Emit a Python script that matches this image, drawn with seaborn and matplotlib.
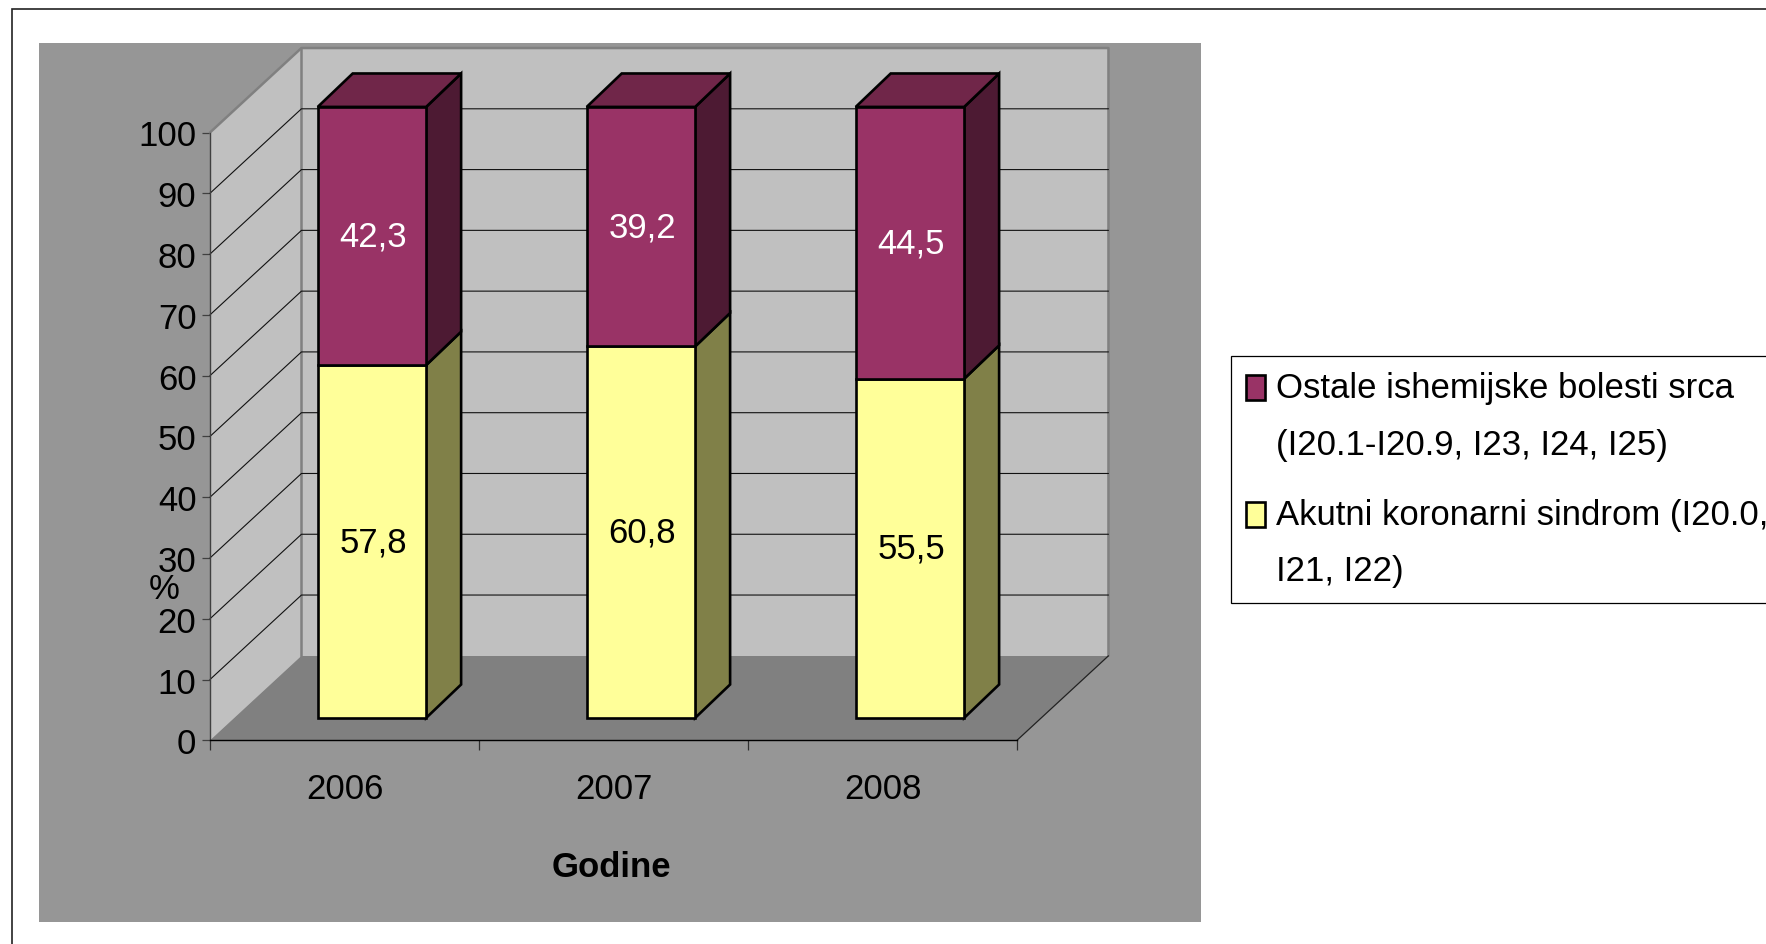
import matplotlib
matplotlib.use("Agg")
import matplotlib.pyplot as plt
import numpy as np
import pandas as pd
import seaborn as sns
from matplotlib.patches import Rectangle, Patch, Polygon
from matplotlib.legend_handler import HandlerPatch

sns.set_theme(style="white")
plt.rcParams['font.family'] = ['Liberation Sans', 'DejaVu Sans']
plt.rcParams['text.color'] = 'black'

# ---- data ----
years = ["2006", "2007", "2008"]
akutni = [57.8, 60.8, 55.5]
ostale = [42.3, 39.2, 44.5]
y_ticks = [0, 10, 20, 30, 40, 50, 60, 70, 80, 90, 100]
legend_labels = ["Ostale ishemijske bolesti srca\n(I20.1-I20.9, I23, I24, I25)",
                 "Akutni koronarni sindrom (I20.0,\nI21, I22)"]
x_title = "Godine"
y_title = "%"

W, H = 1766, 945
FS = 25
LFS = 25
fig = plt.figure(figsize=(W / 100, H / 100), dpi=100, facecolor="white")

def fig_box(l, t, r, b):
    return (l / W, 1 - b / H), (r - l) / W, (b - t) / H

# outer frame + chart area
xy, w, h = fig_box(12, 10, W + 20, H + 20)
fig.add_artist(Rectangle(xy, w, h, transform=fig.transFigure, fc="white", ec="#222222", lw=1.2, zorder=-2))
xy, w, h = fig_box(39, 44, 1201, 923)
fig.add_artist(Rectangle(xy, w, h, transform=fig.transFigure, fc="#969696", ec="none", zorder=-1))

xy, w, h = fig_box(210, 133.5, 1017, 741.3)
ax = fig.add_axes([xy[0], xy[1], w, h], facecolor="none")

ax.set_xlim(-0.5, 2.5)
ax.set_ylim(0, 100)

# projection constants (data units)
WALL_DX, WALL_DY = 0.34, 13.9
BAR_SHIFT_X, BAR_SHIFT_Y = 0.102, 3.68
BAR_DX, BAR_DY = 0.13, 5.5
BAR_SCALE = 1.0053
C_WALL, C_FLOOR = "#C0C0C0", "#808080"

# walls & floor
ax.add_patch(Polygon([(-0.5, 0), (-0.5 + WALL_DX, WALL_DY), (2.5 + WALL_DX, WALL_DY), (2.5, 0)],
                     fc=C_FLOOR, ec="none", clip_on=False, zorder=1))
ax.add_patch(Polygon([(-0.5 + WALL_DX, WALL_DY), (-0.5 + WALL_DX, 100 + WALL_DY),
                      (2.5 + WALL_DX, 100 + WALL_DY), (2.5 + WALL_DX, WALL_DY)],
                     fc=C_WALL, ec="none", clip_on=False, zorder=1))
ax.add_patch(Polygon([(-0.5, 0), (-0.5, 100), (-0.5 + WALL_DX, 100 + WALL_DY), (-0.5 + WALL_DX, WALL_DY)],
                     fc=C_WALL, ec="none", clip_on=False, zorder=1))
# wall outlines
ax.plot([-0.5, -0.5 + WALL_DX, 2.5 + WALL_DX, 2.5 + WALL_DX], [100, 100 + WALL_DY, 100 + WALL_DY, WALL_DY],
        color=C_FLOOR, lw=1.8, clip_on=False, zorder=1.5)
ax.plot([-0.5 + WALL_DX, -0.5 + WALL_DX], [WALL_DY, 100 + WALL_DY], color=C_FLOOR, lw=1.8, clip_on=False, zorder=1.5)
# gridlines
for v in y_ticks[1:-1]:
    ax.plot([-0.5, -0.5 + WALL_DX, 2.5 + WALL_DX], [v, v + WALL_DY, v + WALL_DY],
            color="#111111", lw=0.8, clip_on=False, zorder=2)
ax.plot([2.5, 2.5 + WALL_DX], [0, WALL_DY], color="#222222", lw=0.9, clip_on=False, zorder=2)

# bars
frame = pd.DataFrame({"year": years, "akutni": akutni, "ostale": ostale})
n0 = len(ax.patches)
sns.barplot(data=frame, x="year", y="akutni", color="#FFFF99", saturation=1, width=0.403,
            ax=ax, edgecolor="black", linewidth=1.9, zorder=5, clip_on=False)
sns.barplot(data=frame, x="year", y="ostale", color="#993366", saturation=1, width=0.403,
            ax=ax, edgecolor="black", linewidth=1.9, zorder=5, clip_on=False, bottom=frame["akutni"].values)

bars = ax.patches[n0:]
side_cols = ["#808048"] * 3 + ["#4D1A33"] * 3
top_col = "#702649"
labels = [f"{v}".replace(".", ",") for v in akutni + ostale]
txtcols = ["black"] * 3 + ["white"] * 3
for i, p in enumerate(bars):
    p.set_joinstyle("miter")
    x0, wd = p.get_x(), p.get_width()
    y0, ht = p.get_y(), p.get_height()
    total = akutni[i % 3] + ostale[i % 3]
    y0n = y0 * BAR_SCALE * 100 / total + BAR_SHIFT_Y
    htn = ht * BAR_SCALE * 100 / total
    p.set_x(x0 + BAR_SHIFT_X)
    p.set_y(y0n)
    p.set_height(htn)
    X0, X1, Y0, Y1 = x0 + BAR_SHIFT_X, x0 + BAR_SHIFT_X + wd, y0n, y0n + htn
    ax.add_patch(Polygon([(X1, Y0), (X1 + BAR_DX, Y0 + BAR_DY), (X1 + BAR_DX, Y1 + BAR_DY), (X1, Y1)],
                         fc=side_cols[i], ec="black", lw=1.9, joinstyle="miter", clip_on=False,
                         zorder=4.5 - (0 if i >= 3 else 0.2)))
    if i >= 3:
        ax.add_patch(Polygon([(X0, Y1), (X0 + BAR_DX, Y1 + BAR_DY), (X1 + BAR_DX, Y1 + BAR_DY), (X1, Y1)],
                             fc=top_col, ec="black", lw=1.9, joinstyle="miter", clip_on=False, zorder=4.5))
    ax.text((X0 + X1) / 2 + 0.004, (Y0 + Y1) / 2, labels[i], color=txtcols[i], fontsize=FS,
            ha="center", va="center", zorder=6)

ax.set_xlim(-0.5, 2.5)
ax.set_ylim(0, 100)

# axes
for s in ("top", "right"):
    ax.spines[s].set_visible(False)
ax.spines["left"].set_color("#404040")
ax.spines["left"].set_linewidth(1.0)
ax.spines["bottom"].set_color("black")
ax.spines["bottom"].set_linewidth(1.0)
ax.spines["left"].set_zorder(3)
ax.spines["bottom"].set_zorder(3)
ax.set_yticks(y_ticks)
ax.set_yticklabels([str(v) for v in y_ticks], fontsize=FS, color="black")
ax.tick_params(axis="y", length=5.8, width=0.9, color="#404040", pad=4, left=True)
ax.set_xticks([0, 1, 2])
ax.set_xticklabels(years, fontsize=FS, color="black")
ax.set_xticks([-0.5, 0.5, 1.5, 2.5], minor=True)
ax.tick_params(axis="x", which="major", length=0, pad=22.5, bottom=False)
ax.tick_params(axis="x", which="minor", length=7.5, width=0.9, color="#303030", bottom=True)
ax.set_xlabel(x_title, fontsize=FS, fontweight="bold", color="black")
ax.xaxis.set_label_coords(0.498, -0.2075)
ax.xaxis.label.set_va("center")
ax.set_ylabel(y_title, fontsize=FS, color="black", rotation=0, ha="center")
ax.yaxis.set_label_coords((164 - 210) / 807, (741.3 - 590) / 607.8)
ax.yaxis.label.set_va("center")

# legend
def lg_patch(legend, orig_handle, xdescent, ydescent, width, height, fontsize):
    return Rectangle((-xdescent, -ydescent + 21), width, height)

handles = [Patch(fc="#993366", ec="black", lw=1.9), Patch(fc="#FFFF99", ec="black", lw=1.9)]
leg = fig.legend(handles, legend_labels, fontsize=LFS, loc="upper left",
                 bbox_to_anchor=(1231 / W, 1 - 357 / H), frameon=True, fancybox=False,
                 framealpha=1, edgecolor="black", facecolor="white",
                 handlelength=0.55, handleheight=0.72, handletextpad=0.3, labelspacing=1.07,
                 borderpad=0.44, borderaxespad=0,
                 handler_map={Patch: HandlerPatch(patch_func=lg_patch)})
leg.get_frame().set_linewidth(0.9)
for t in leg.get_texts():
    t.set_linespacing(1.9)

fig.savefig("out.png", dpi=100)
